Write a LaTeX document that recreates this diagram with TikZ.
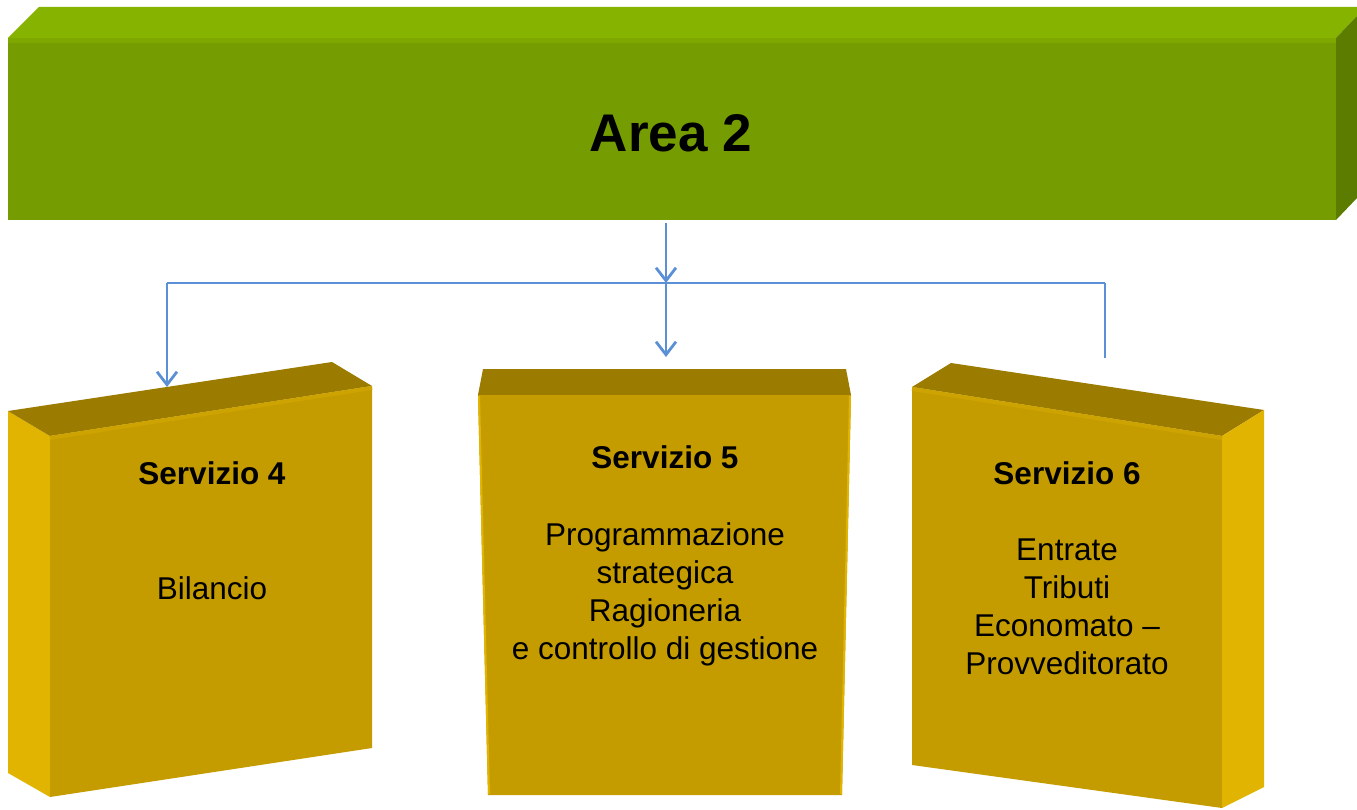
\documentclass[tikz,border=0pt]{standalone}
\usepackage{fontspec}
\setmainfont{Liberation Sans}
\usetikzlibrary{arrows.meta}
\definecolor{gTop}{HTML}{86B300}
\definecolor{gFront}{HTML}{759C00}
\definecolor{gBand}{HTML}{7EA800}
\definecolor{gSide}{HTML}{5C7C00}
\definecolor{yTop}{HTML}{9B7B00}
\definecolor{yFront}{HTML}{C49C00}
\definecolor{yBand}{HTML}{CCA300}
\definecolor{ySide}{HTML}{E0B400}
\definecolor{lineblue}{HTML}{5B8FD6}
\begin{document}
\begin{tikzpicture}[x=1pt,y=-1pt,
  conn/.style={draw=lineblue, line width=2.8pt},
  tipped/.style={-{Straight Barb[length=13pt,width=20pt]}},
  ttl/.style={font=\fontsize{31.5}{38}\selectfont\bfseries, text=black},
  body/.style={font=\fontsize{31.5}{38}\selectfont, text=black, align=center}]
\useasboundingbox (0,0) rectangle (1357,810);
% ---- Area 2 block
\fill[gTop] (8,38) -- (39,7) -- (1357,7) -- (1357,16) -- (1336,38) -- cycle;
\fill[gSide] (1336,38) -- (1357,16) -- (1357,198) -- (1336,220) -- cycle;
\node[fill=gFront, minimum width=1328pt, minimum height=182pt, inner sep=0pt, anchor=north west] (area) at (8,38) {};
\fill[gBand] (8,38) rectangle (1336,43);
\node[font=\fontsize{53}{60}\selectfont\bfseries] (areatxt) at (671,133) {Area 2};
% ---- Servizio 4
\fill[ySide] (8,411) -- (50,436) -- (50,797) -- (8,773) -- cycle;
\fill[yTop] (8,411) -- (332,362) -- (372,386) -- (50,436) -- cycle;
\fill[yFront] (50,436) -- (372,386) -- (372,748) -- (50,797) -- cycle;
\draw[yBand, line width=4pt] (50,438) -- (372,388);
\node[ttl] (s4) at (212,473) {Servizio 4};
\node[body] (s4b) at (212,588) {Bilancio};
% ---- Servizio 5
\fill[yTop] (483,369) -- (846,369) -- (851,395) -- (478,395) -- cycle;
\fill[yFront] (478,395) -- (851,395) -- (842,795) -- (488,795) -- cycle;
\draw[ySide, line width=2pt] (479,396) -- (489,794);
\draw[ySide, line width=2pt] (850,396) -- (841,794);
\node[ttl] (s5) at (665,457) {Servizio 5};
\node[body] (s5b) at (665,594) {Programmazione\\strategica\\Ragioneria\\e controllo di gestione};
% ---- Servizio 6
\fill[yTop] (912,387) -- (951,363) -- (1264,410) -- (1222,436) -- cycle;
\fill[yFront] (912,387) -- (1222,436) -- (1222,808) -- (912,765) -- cycle;
\fill[ySide] (1222,436) -- (1264,410) -- (1264,787) -- (1222,808) -- cycle;
\draw[yBand, line width=4pt] (912,389) -- (1222,438);
\node[ttl] (s6) at (1067,473) {Servizio 6};
\node[body] (s6b) at (1067,607) {Entrate\\Tributi\\Economato --\\Provveditorato};
% ---- connectors
\coordinate (hub) at (666,283);
\coordinate (left) at (167,283);
\coordinate (right) at (1105,283);
\coordinate (in4) at (167,387);
\coordinate (in5) at (666,357);
\coordinate (end6) at (1105,358);
\coordinate (out) at (666,223);
\draw[conn, tipped] (out) -- (hub);
\draw[conn] (left) -- (right);
\draw[conn, tipped] (left) -- (in4);
\draw[conn, tipped] (hub) -- (in5);
\draw[conn] (right) -- (end6);
\end{tikzpicture}
\end{document}
